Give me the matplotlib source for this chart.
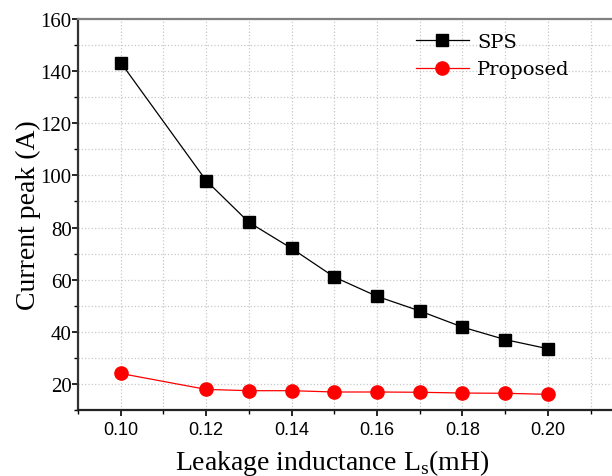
import matplotlib
matplotlib.use('Agg')
import matplotlib.pyplot as plt
from matplotlib.ticker import MultipleLocator

# leakage inductance (mH)
ls = [0.10, 0.12, 0.13, 0.14, 0.15, 0.16, 0.17, 0.18, 0.19, 0.20]
sps = [143.3, 98.0, 82.0, 72.0, 61.0, 53.6, 48.0, 41.8, 37.0, 33.5]
proposed = [24.0, 17.9, 17.4, 17.4, 16.9, 16.9, 16.8, 16.5, 16.4, 16.0]

fig = plt.figure(figsize=(6.12, 4.77), dpi=100)
ax = fig.add_axes([0.1275, 0.1384, 0.8725, 0.8196])

ax.plot(ls, sps, color='black', lw=0.9, marker='s', ms=8.5, label='SPS')
ax.plot(ls, proposed, color='red', lw=0.9, marker='o', ms=9.5, label='Proposed')

ax.set_xlim(0.09, 0.215)
ax.set_ylim(10, 160)
ax.xaxis.set_major_locator(MultipleLocator(0.02))
ax.xaxis.set_minor_locator(MultipleLocator(0.01))
ax.yaxis.set_major_locator(MultipleLocator(20))
ax.yaxis.set_minor_locator(MultipleLocator(10))
ax.set_xticks([0.10, 0.12, 0.14, 0.16, 0.18, 0.20])
ax.set_xticklabels(['0.10', '0.12', '0.14', '0.16', '0.18', '0.20'],
                   family='Liberation Sans', fontsize=13)
for t in ax.get_yticklabels():
    t.set_family('Liberation Serif')
    t.set_fontsize(15)

ax.grid(True, which='both', ls=':', color='#c8c8c8', lw=0.9)
ax.tick_params(which='major', direction='out', length=4.5, width=1.2)
ax.tick_params(which='minor', direction='out', length=3, width=1.0)
ax.tick_params(axis='y', which='major', length=4, pad=0.5)
ax.tick_params(top=False, right=False)

ax.spines['right'].set_visible(False)
ax.spines['top'].set_color('#808080')
ax.spines['top'].set_linewidth(1.6)
ax.spines['left'].set_color('#333333')
ax.spines['left'].set_linewidth(1.6)
ax.spines['bottom'].set_color('#222222')
ax.spines['bottom'].set_linewidth(1.6)

ax.set_ylabel('Current peak (A)', family='Liberation Serif', fontsize=20)
ax.yaxis.set_label_coords(-0.07, 0.5)
ax.set_xlabel(r'Leakage inductance L$_\mathregular{s}$(mH)', family='Liberation Serif',
              fontsize=20)
ax.xaxis.set_label_coords(0.476, -0.095)

leg = ax.legend(loc='upper right', bbox_to_anchor=(0.953, 1.01), frameon=False,
                prop={'family': 'DejaVu Serif', 'size': 14},
                handlelength=2.75, handletextpad=0.4, labelspacing=0.5)

fig.savefig('out.png', dpi=100)
